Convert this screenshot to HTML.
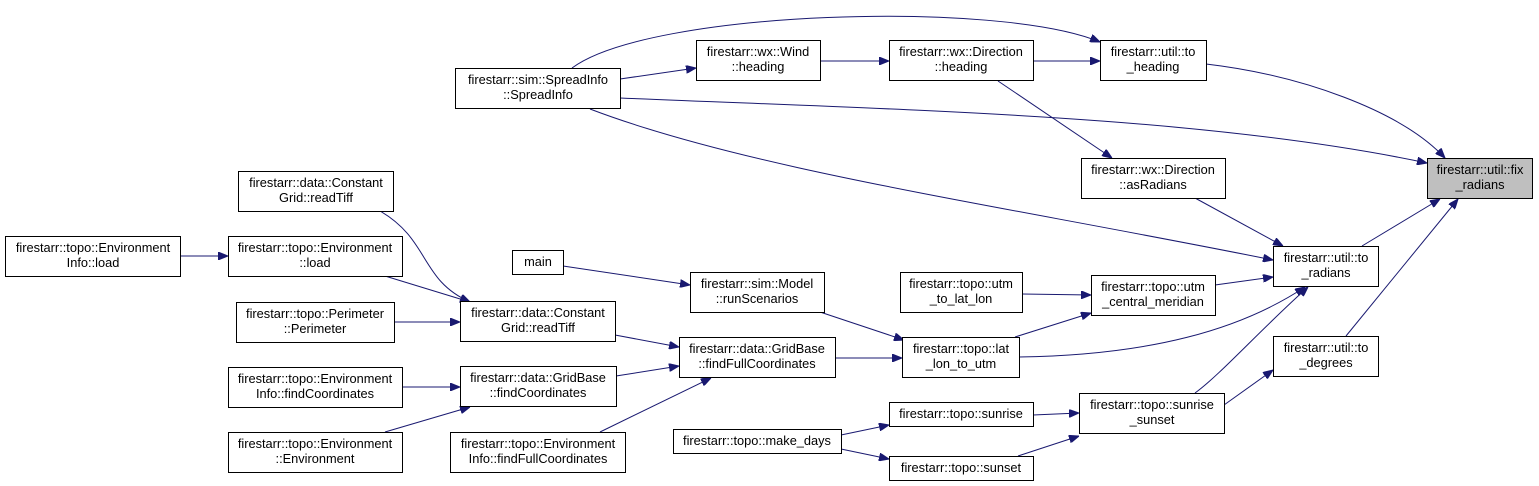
<!DOCTYPE html>
<html><head><meta charset="utf-8"><style>
html,body{margin:0;padding:0;background:#fff;}
svg{display:block;}
text{font-family:"Liberation Sans",Arial,sans-serif;font-size:12.8px;fill:#000;text-anchor:middle;}
.n{fill:#fff;stroke:#000;stroke-width:1;}
.g{fill:#bfbfbf;stroke:#000;stroke-width:1;}
.e{fill:none;stroke:#191970;stroke-width:1;}
</style></head><body>
<svg width="1539" height="486" viewBox="0 0 1539 486" xmlns="http://www.w3.org/2000/svg">
<defs><marker id="a" markerWidth="10" markerHeight="8" refX="10" refY="4" orient="auto" markerUnits="userSpaceOnUse"><path d="M0,0 L10,4 L0,8 Z" fill="#191970" stroke="#191970"/></marker></defs>
<g marker-end="url(#a)">
<path class="e" d="M572,68 C650,10 1000,0 1100,42"/>
<path class="e" d="M620,79 L696,68"/>
<path class="e" d="M820,61 L889,61"/>
<path class="e" d="M1033,61 L1100,61"/>
<path class="e" d="M1206,64 C1300,75 1400,110 1445,158"/>
<path class="e" d="M620,98 C900,110 1200,115 1427,163"/>
<path class="e" d="M590,109 C750,170 1000,205 1273,260"/>
<path class="e" d="M998,81 L1112,158"/>
<path class="e" d="M1195,198 L1283,246"/>
<path class="e" d="M1362,246 L1440,199"/>
<path class="e" d="M1346,336 L1458,199"/>
<path class="e" d="M1215,285 L1273,277"/>
<path class="e" d="M1022,294 L1091,295"/>
<path class="e" d="M1015,337 L1091,313"/>
<path class="e" d="M1019,357 C1150,355 1240,330 1305,287"/>
<path class="e" d="M1195,393 C1220,375 1260,330 1308,287"/>
<path class="e" d="M1224,405 L1273,370"/>
<path class="e" d="M1033,415 L1079,413"/>
<path class="e" d="M1018,456 L1079,436"/>
<path class="e" d="M841,435 L889,425"/>
<path class="e" d="M841,449 L889,459"/>
<path class="e" d="M563,266 L690,285"/>
<path class="e" d="M820,312 L904,340"/>
<path class="e" d="M835,358 L902,358"/>
<path class="e" d="M615,335 L679,347"/>
<path class="e" d="M616,376 L679,366"/>
<path class="e" d="M600,432 L711,378"/>
<path class="e" d="M380,211 C430,240 420,280 470,302"/>
<path class="e" d="M385,276 L470,302"/>
<path class="e" d="M394,322 L460,322"/>
<path class="e" d="M402,387 L460,387"/>
<path class="e" d="M385,432 L470,407"/>
<path class="e" d="M180,256 L228,256"/>
</g>
<rect class="g" x="1427.5" y="158.5" width="105" height="40"/><text x="1480" y="174">firestarr::util::fix</text><text x="1480" y="189">_radians</text>
<rect class="n" x="1100.5" y="40.5" width="106" height="40"/><text x="1153" y="56">firestarr::util::to</text><text x="1153" y="71">_heading</text>
<rect class="n" x="455.5" y="68.5" width="165" height="40"/><text x="538" y="84">firestarr::sim::SpreadInfo</text><text x="538" y="99">::SpreadInfo</text>
<rect class="n" x="696.5" y="40.5" width="124" height="40"/><text x="758" y="56">firestarr::wx::Wind</text><text x="758" y="71">::heading</text>
<rect class="n" x="889.5" y="40.5" width="144" height="40"/><text x="961" y="56">firestarr::wx::Direction</text><text x="961" y="71">::heading</text>
<rect class="n" x="1081.5" y="158.5" width="144" height="40"/><text x="1153" y="174">firestarr::wx::Direction</text><text x="1153" y="189">::asRadians</text>
<rect class="n" x="1273.5" y="246.5" width="105" height="40"/><text x="1326" y="262">firestarr::util::to</text><text x="1326" y="277">_radians</text>
<rect class="n" x="1273.5" y="336.5" width="105" height="40"/><text x="1326" y="352">firestarr::util::to</text><text x="1326" y="367">_degrees</text>
<rect class="n" x="1091.5" y="275.5" width="124" height="40"/><text x="1153" y="291">firestarr::topo::utm</text><text x="1153" y="306">_central_meridian</text>
<rect class="n" x="900.5" y="272.5" width="122" height="40"/><text x="961" y="288">firestarr::topo::utm</text><text x="961" y="303">_to_lat_lon</text>
<rect class="n" x="902.5" y="337.5" width="117" height="40"/><text x="961" y="353">firestarr::topo::lat</text><text x="961" y="368">_lon_to_utm</text>
<rect class="n" x="1079.5" y="393.5" width="145" height="40"/><text x="1152" y="409">firestarr::topo::sunrise</text><text x="1152" y="424">_sunset</text>
<rect class="n" x="889.5" y="402.5" width="144" height="24"/><text x="961" y="418">firestarr::topo::sunrise</text>
<rect class="n" x="889.5" y="456.5" width="144" height="24"/><text x="961" y="472">firestarr::topo::sunset</text>
<rect class="n" x="673.5" y="429.5" width="168" height="24"/><text x="757" y="445">firestarr::topo::make_days</text>
<rect class="n" x="512.5" y="250.5" width="51" height="24"/><text x="538" y="266">main</text>
<rect class="n" x="690.5" y="272.5" width="134" height="40"/><text x="757" y="288">firestarr::sim::Model</text><text x="757" y="303">::runScenarios</text>
<rect class="n" x="679.5" y="337.5" width="156" height="40"/><text x="757" y="353">firestarr::data::GridBase</text><text x="757" y="368">::findFullCoordinates</text>
<rect class="n" x="460.5" y="301.5" width="155" height="40"/><text x="538" y="317">firestarr::data::Constant</text><text x="538" y="332">Grid::readTiff</text>
<rect class="n" x="460.5" y="366.5" width="156" height="40"/><text x="538" y="382">firestarr::data::GridBase</text><text x="538" y="397">::findCoordinates</text>
<rect class="n" x="450.5" y="432.5" width="175" height="40"/><text x="538" y="448">firestarr::topo::Environment</text><text x="538" y="463">Info::findFullCoordinates</text>
<rect class="n" x="238.5" y="171.5" width="155" height="40"/><text x="316" y="187">firestarr::data::Constant</text><text x="316" y="202">Grid::readTiff</text>
<rect class="n" x="228.5" y="236.5" width="174" height="40"/><text x="315" y="252">firestarr::topo::Environment</text><text x="315" y="267">::load</text>
<rect class="n" x="5.5" y="236.5" width="175" height="40"/><text x="93" y="252">firestarr::topo::Environment</text><text x="93" y="267">Info::load</text>
<rect class="n" x="236.5" y="302.5" width="158" height="40"/><text x="315" y="318">firestarr::topo::Perimeter</text><text x="315" y="333">::Perimeter</text>
<rect class="n" x="228.5" y="367.5" width="174" height="40"/><text x="315" y="383">firestarr::topo::Environment</text><text x="315" y="398">Info::findCoordinates</text>
<rect class="n" x="228.5" y="432.5" width="174" height="40"/><text x="315" y="448">firestarr::topo::Environment</text><text x="315" y="463">::Environment</text>
</svg>
</body></html>
